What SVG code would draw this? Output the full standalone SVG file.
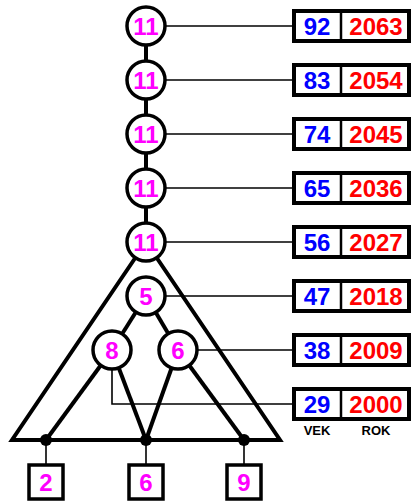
<svg xmlns="http://www.w3.org/2000/svg" width="412" height="502" viewBox="0 0 412 502">
<style>
.thick{stroke:#000;stroke-width:4;fill:none}
.thin{stroke:#000;stroke-width:1.6;fill:none}
.circ{fill:#fff;stroke:#000;stroke-width:3.5}
.box{fill:#fff;stroke:#000;stroke-width:4}
.div{stroke:#000;stroke-width:2.5}
.sq{fill:#fff;stroke:#000;stroke-width:3.5}
text{font-family:"Liberation Sans",Arial,sans-serif;font-weight:bold;text-anchor:middle}
.m{fill:#ff00ff;font-size:24px}
.b{fill:#0000ff;font-size:24px}
.r{fill:#ff0000;font-size:24px}
.lbl{fill:#000;font-size:13px}
</style>
<defs>
<g id="rowbox">
<rect class="box" x="294" y="-15" width="115" height="30"/>
<line class="div" x1="341" y1="-15" x2="341" y2="15"/>
</g>
</defs>
<g id="connectors">
<line class="thick" x1="146" y1="26" x2="146" y2="242"/>
<polygon class="thick" points="146,242 12,440 280,440" stroke-linejoin="miter"/>
<line class="thick" x1="146" y1="296" x2="112" y2="350"/>
<line class="thick" x1="146" y1="296" x2="178" y2="350"/>
<line class="thick" x1="112" y1="350" x2="46" y2="440"/>
<line class="thick" x1="112" y1="350" x2="146" y2="440"/>
<line class="thick" x1="178" y1="350" x2="146" y2="440"/>
<line class="thick" x1="178" y1="350" x2="244" y2="440"/>
<line class="thin" x1="146" y1="26" x2="294" y2="26"/>
<line class="thin" x1="146" y1="80" x2="294" y2="80"/>
<line class="thin" x1="146" y1="134" x2="294" y2="134"/>
<line class="thin" x1="146" y1="188" x2="294" y2="188"/>
<line class="thin" x1="146" y1="242" x2="294" y2="242"/>
<line class="thin" x1="146" y1="296" x2="294" y2="296"/>
<line class="thin" x1="178" y1="350" x2="294" y2="350"/>
<polyline class="thin" points="112,350 112,404 294,404"/>
<line class="thin" x1="46" y1="440" x2="46" y2="465"/>
<line class="thin" x1="146" y1="440" x2="146" y2="465"/>
<line class="thin" x1="244" y1="440" x2="244" y2="465"/>
<circle cx="46" cy="440" r="6" fill="#000"/>
<circle cx="146" cy="440" r="6" fill="#000"/>
<circle cx="244" cy="440" r="6" fill="#000"/>
</g>
<g id="n1"><circle class="circ" cx="146" cy="26" r="19"/><text class="m" x="146" y="34.6">11</text></g>
<g id="n2"><circle class="circ" cx="146" cy="80" r="19"/><text class="m" x="146" y="88.6">11</text></g>
<g id="n3"><circle class="circ" cx="146" cy="134" r="19"/><text class="m" x="146" y="142.6">11</text></g>
<g id="n4"><circle class="circ" cx="146" cy="188" r="19"/><text class="m" x="146" y="196.6">11</text></g>
<g id="n5"><circle class="circ" cx="146" cy="242" r="19"/><text class="m" x="146" y="250.6">11</text></g>
<g id="n6"><circle class="circ" cx="146" cy="296" r="19"/><text class="m" x="146" y="304.6">5</text></g>
<g id="n7"><circle class="circ" cx="112" cy="350" r="19"/><text class="m" x="112" y="358.6">8</text></g>
<g id="n8"><circle class="circ" cx="178" cy="350" r="19"/><text class="m" x="178" y="358.6">6</text></g>
<g id="leaf2"><rect class="sq" x="29" y="465" width="34" height="34"/><text class="m" x="46" y="490.6">2</text></g>
<g id="leaf6"><rect class="sq" x="129" y="465" width="34" height="34"/><text class="m" x="146" y="490.6">6</text></g>
<g id="leaf9"><rect class="sq" x="227" y="465" width="34" height="34"/><text class="m" x="244" y="490.6">9</text></g>
<g id="row1"><use href="#rowbox" y="26"/><text class="b" x="317" y="34.6">92</text><text class="r" x="376" y="34.6">2063</text></g>
<g id="row2"><use href="#rowbox" y="80"/><text class="b" x="317" y="88.6">83</text><text class="r" x="376" y="88.6">2054</text></g>
<g id="row3"><use href="#rowbox" y="134"/><text class="b" x="317" y="142.6">74</text><text class="r" x="376" y="142.6">2045</text></g>
<g id="row4"><use href="#rowbox" y="188"/><text class="b" x="317" y="196.6">65</text><text class="r" x="376" y="196.6">2036</text></g>
<g id="row5"><use href="#rowbox" y="242"/><text class="b" x="317" y="250.6">56</text><text class="r" x="376" y="250.6">2027</text></g>
<g id="row6"><use href="#rowbox" y="296"/><text class="b" x="317" y="304.6">47</text><text class="r" x="376" y="304.6">2018</text></g>
<g id="row7"><use href="#rowbox" y="350"/><text class="b" x="317" y="358.6">38</text><text class="r" x="376" y="358.6">2009</text></g>
<g id="row8"><use href="#rowbox" y="404"/><text class="b" x="317" y="412.6">29</text><text class="r" x="376" y="412.6">2000</text></g>
<g id="labels"><text class="lbl" x="317" y="435">VEK</text><text class="lbl" x="376" y="435">ROK</text></g>
</svg>
